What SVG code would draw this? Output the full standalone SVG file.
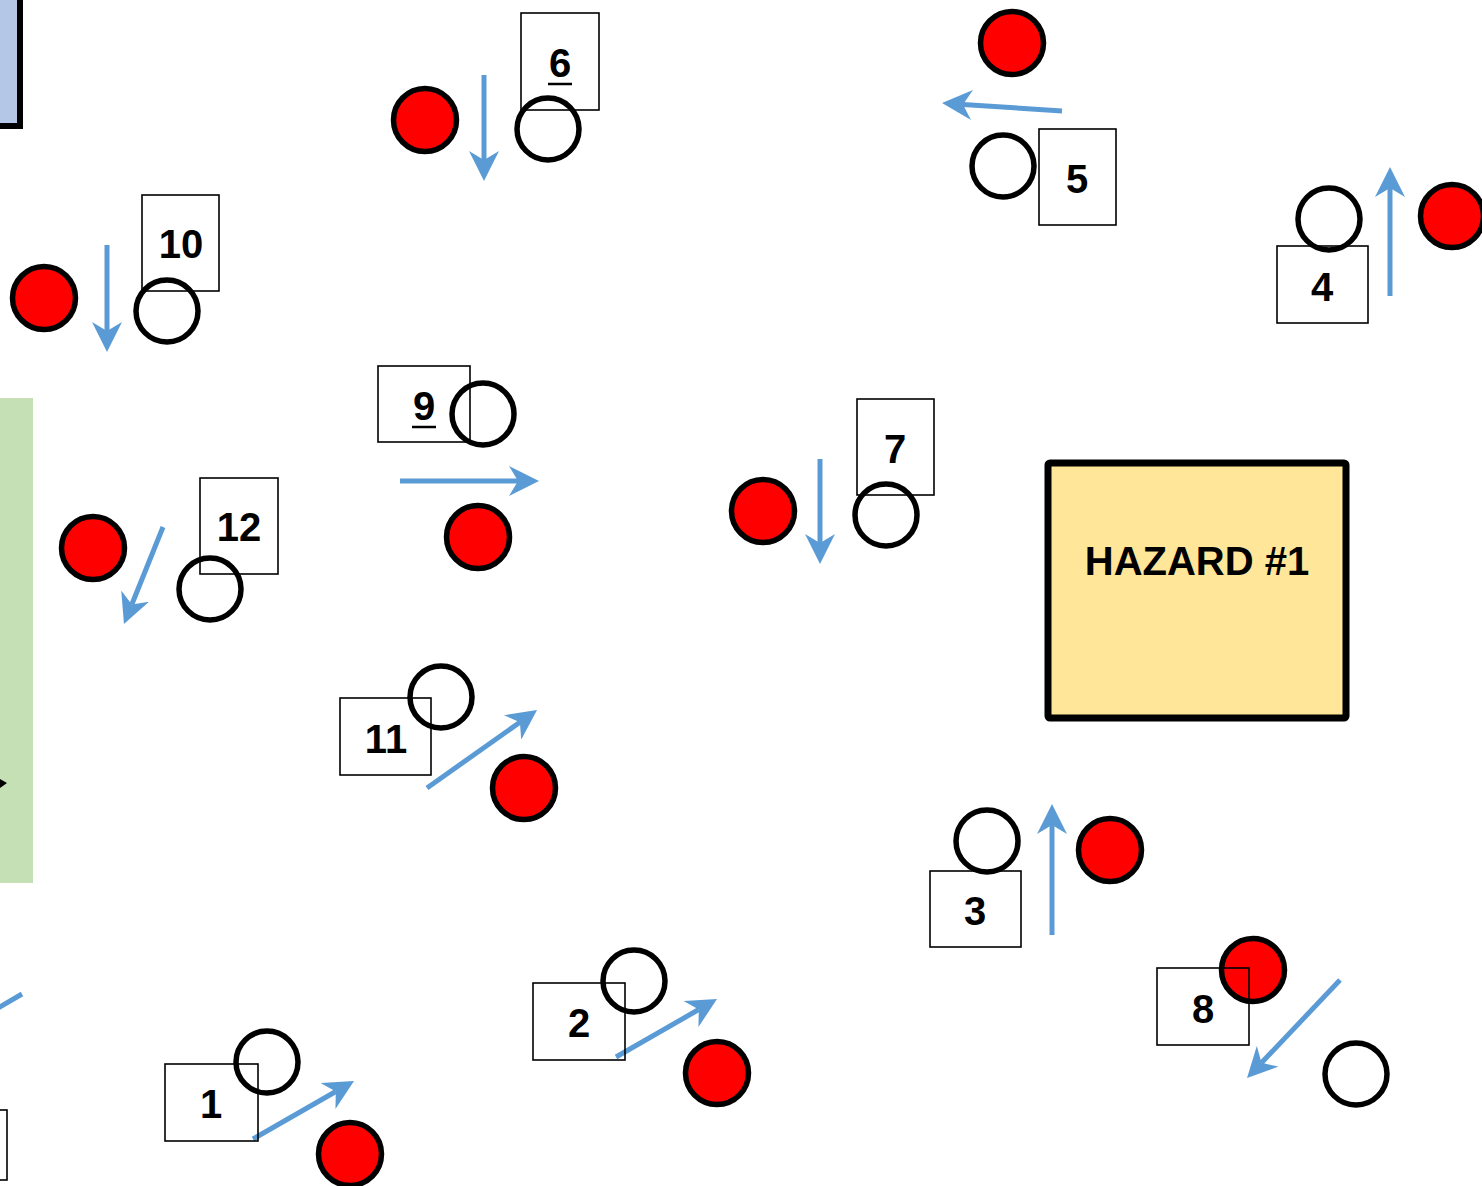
<svg xmlns="http://www.w3.org/2000/svg" width="1482" height="1186" viewBox="0 0 1482 1186">
<style>
.box{fill:none;stroke:#000;stroke-width:1.6}
.open{fill:none;stroke:#000;stroke-width:5.5}
.red{fill:#FF0000;stroke:#000;stroke-width:5.5}
.num{font-family:"Liberation Sans",Arial,sans-serif;font-weight:bold;font-size:40px;text-anchor:middle;fill:#000}
.arr{stroke:#5B9BD5;stroke-width:5;fill:none;marker-end:url(#stealth)}
.ul{stroke:#000;stroke-width:2.5}
</style>
<defs>
<marker id="stealth" markerUnits="userSpaceOnUse" viewBox="0 0 30 30" markerWidth="30" markerHeight="30" refX="9" refY="15" orient="auto">
<path d="M0,0 L30,15 L0,30 L9,15 z" fill="#5B9BD5"/>
</marker>
</defs>
<rect width="1482" height="1186" fill="#fff"/>
<g id="edge-shapes">
<rect x="-10" y="-10" width="30" height="136" fill="#B4C7E7" stroke="#000" stroke-width="6"/>
<rect x="0" y="398" width="33" height="485" fill="#C5E0B4"/>
<path d="M0,779 L7,783 L0,788 z" fill="#000"/>
<rect x="-20" y="1110" width="27" height="70" class="box"/>
</g>
<g id="hazard">
<rect x="1048" y="463" width="298" height="255" fill="#FFE699" stroke="#000" stroke-width="7" rx="2"/>
<text x="1197" y="575" class="num">HAZARD #1</text>
</g>
<g id="connectors">
<line x1="484" y1="75" x2="484" y2="160" class="arr"/>
<line x1="1062" y1="111" x2="963" y2="104.4" class="arr"/>
<line x1="1390" y1="296" x2="1390" y2="188" class="arr"/>
<line x1="107" y1="245" x2="107" y2="331" class="arr"/>
<line x1="400" y1="481" x2="518" y2="481" class="arr"/>
<line x1="820" y1="459" x2="820" y2="543" class="arr"/>
<line x1="163" y1="527" x2="131.8" y2="604.5" class="arr"/>
<line x1="427" y1="788" x2="519.9" y2="722.2" class="arr"/>
<line x1="1052" y1="935" x2="1052" y2="825" class="arr"/>
<line x1="1340" y1="980" x2="1261.5" y2="1062.8" class="arr"/>
<line x1="616" y1="1057" x2="698.8" y2="1009.5" class="arr"/>
<line x1="253" y1="1139" x2="335.8" y2="1091.5" class="arr"/>
<line x1="-2" y1="1008" x2="22" y2="994" stroke="#5B9BD5" stroke-width="5"/>
</g>
<g id="node-6">
<circle cx="425" cy="120" r="31.5" class="red"/>
<circle cx="548" cy="129" r="31" class="open"/>
<rect x="521" y="13" width="78" height="97" class="box"/>
<text x="560" y="77" class="num">6</text>
<line x1="548" y1="84" x2="572" y2="84" class="ul"/>
</g>
<g id="node-5">
<circle cx="1012" cy="43" r="31.5" class="red"/>
<circle cx="1003" cy="166" r="31" class="open"/>
<rect x="1039" y="129" width="77" height="96" class="box"/>
<text x="1077" y="193" class="num">5</text>
</g>
<g id="node-4">
<circle cx="1452" cy="216" r="31.5" class="red"/>
<circle cx="1329" cy="219" r="31" class="open"/>
<rect x="1277" y="246" width="91" height="77" class="box"/>
<text x="1322" y="301" class="num">4</text>
</g>
<g id="node-10">
<circle cx="44" cy="298" r="31.5" class="red"/>
<circle cx="167" cy="311" r="31" class="open"/>
<rect x="142" y="195" width="77" height="96" class="box"/>
<text x="181" y="258" class="num">10</text>
</g>
<g id="node-9">
<circle cx="478" cy="537" r="31.5" class="red"/>
<circle cx="483" cy="414" r="31" class="open"/>
<rect x="378" y="366" width="92" height="76" class="box"/>
<text x="424" y="420" class="num">9</text>
<line x1="412" y1="427" x2="436" y2="427" class="ul"/>
</g>
<g id="node-7">
<circle cx="763" cy="511" r="31.5" class="red"/>
<circle cx="886" cy="515" r="31" class="open"/>
<rect x="857" y="399" width="77" height="96" class="box"/>
<text x="895" y="463" class="num">7</text>
</g>
<g id="node-12">
<circle cx="93" cy="548" r="31.5" class="red"/>
<circle cx="210" cy="589" r="31" class="open"/>
<rect x="200" y="478" width="78" height="96" class="box"/>
<text x="239" y="541" class="num">12</text>
</g>
<g id="node-11">
<circle cx="524" cy="788" r="31.5" class="red"/>
<circle cx="441" cy="697" r="31" class="open"/>
<rect x="340" y="698" width="91" height="77" class="box"/>
<text x="386" y="753" class="num">11</text>
</g>
<g id="node-3">
<circle cx="1110" cy="850" r="31.5" class="red"/>
<circle cx="987" cy="841" r="31" class="open"/>
<rect x="930" y="871" width="91" height="76" class="box"/>
<text x="975" y="925" class="num">3</text>
</g>
<g id="node-8">
<circle cx="1253" cy="970" r="31.5" class="red"/>
<circle cx="1356" cy="1074" r="31" class="open"/>
<rect x="1157" y="968" width="92" height="77" class="box"/>
<text x="1203" y="1023" class="num">8</text>
</g>
<g id="node-2">
<circle cx="717" cy="1073" r="31.5" class="red"/>
<circle cx="634" cy="981" r="31" class="open"/>
<rect x="533" y="983" width="92" height="77" class="box"/>
<text x="579" y="1037" class="num">2</text>
</g>
<g id="node-1">
<circle cx="350" cy="1154" r="31.5" class="red"/>
<circle cx="267" cy="1062" r="31" class="open"/>
<rect x="165" y="1064" width="93" height="77" class="box"/>
<text x="211" y="1118" class="num">1</text>
</g>
</svg>
